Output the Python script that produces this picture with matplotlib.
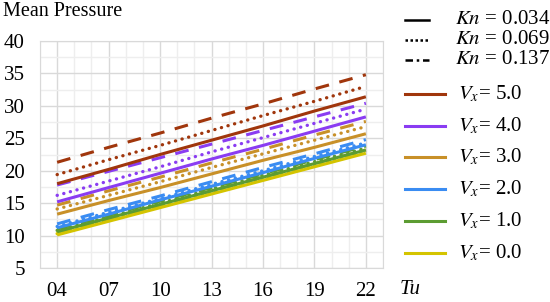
import matplotlib
matplotlib.use("Agg")
import matplotlib.pyplot as plt
from matplotlib.lines import Line2D
from matplotlib.ticker import MultipleLocator

plt.rcParams['font.family'] = ['Liberation Serif', 'DejaVu Serif']
plt.rcParams['mathtext.fontset'] = 'stix'

tu = [4, 7, 10, 13, 16, 19, 22]
tick_labels = ["04", "07", "10", "13", "16", "19", "22"]
kn_values = ["0.034", "0.069", "0.137"]
vx_values = ["5.0", "4.0", "3.0", "2.0", "1.0", "0.0"]

# pressure[vx][kn]
p_v5_kn034 = [18.0, 20.2, 22.5, 24.7, 26.9, 29.2, 31.4]
p_v5_kn069 = [19.4, 21.7, 23.9, 26.2, 28.5, 30.7, 33.0]
p_v5_kn137 = [21.3, 23.6, 25.8, 28.1, 30.3, 32.6, 34.8]
p_v4_kn034 = [15.2, 17.4, 19.6, 21.8, 23.9, 26.1, 28.3]
p_v4_kn069 = [16.2, 18.4, 20.6, 22.9, 25.1, 27.3, 29.5]
p_v4_kn137 = [17.8, 19.9, 22.0, 24.1, 26.2, 28.3, 30.4]
p_v3_kn034 = [13.3, 15.4, 17.4, 19.5, 21.6, 23.6, 25.7]
p_v3_kn069 = [14.1, 16.2, 18.3, 20.5, 22.6, 24.7, 26.8]
p_v3_kn137 = [14.7, 16.9, 19.0, 21.2, 23.3, 25.5, 27.6]
p_v2_kn034 = [11.2, 13.3, 15.5, 17.6, 19.7, 21.9, 24.0]
p_v2_kn069 = [11.4, 13.6, 15.7, 17.9, 20.0, 22.2, 24.3]
p_v2_kn137 = [11.8, 14.0, 16.1, 18.3, 20.5, 22.6, 24.8]
p_v1_kn034 = [10.6, 12.7, 14.8, 16.9, 19.0, 21.1, 23.2]
p_v1_kn069 = [10.8, 12.9, 15.0, 17.2, 19.3, 21.4, 23.5]
p_v1_kn137 = [11.0, 13.1, 15.3, 17.4, 19.5, 21.7, 23.8]
p_v0_kn034 = [10.1, 12.2, 14.3, 16.4, 18.5, 20.6, 22.7]
p_v0_kn069 = [10.3, 12.4, 14.5, 16.7, 18.8, 20.9, 23.0]
p_v0_kn137 = [10.5, 12.6, 14.7, 16.9, 19.0, 21.1, 23.2]

series = [
    [p_v5_kn034, p_v5_kn069, p_v5_kn137],
    [p_v4_kn034, p_v4_kn069, p_v4_kn137],
    [p_v3_kn034, p_v3_kn069, p_v3_kn137],
    [p_v2_kn034, p_v2_kn069, p_v2_kn137],
    [p_v1_kn034, p_v1_kn069, p_v1_kn137],
    [p_v0_kn034, p_v0_kn069, p_v0_kn137],
]
colors = ["#A0360C", "#8A3CF2", "#C89028", "#3A8CF2", "#5C9C32", "#D4C400"]
styles = ["-", (0, (0.05, 2.0)), (0, (4.5, 3.5))]

W, H = 550, 302
fig = plt.figure(figsize=(W / 100, H / 100), dpi=100)
ax = fig.add_axes([40 / W, 1 - 268 / H, (383 - 40) / W, (268 - 41) / H])

for vi in range(len(series) - 1, -1, -1):
    for ki in range(3):
        ax.plot(tu, series[vi][ki], color=colors[vi], linestyle=styles[ki],
                lw=2.2 if ki != 1 else 2.4,
                dash_capstyle='round' if ki == 1 else 'butt',
                solid_capstyle='butt', zorder=3)

ax.set_xlim(3, 23)
ax.set_ylim(5, 40)
ax.set_xticks(tu)
ax.set_xticklabels(tick_labels)
ax.set_yticks([5, 10, 15, 20, 25, 30, 35, 40])
ax.xaxis.set_minor_locator(MultipleLocator(1))
ax.yaxis.set_minor_locator(MultipleLocator(2.5))
ax.grid(which='major', color='#d9d9d9', lw=1.0)
ax.grid(which='minor', color='#eeeeee', lw=1.0)
ax.set_axisbelow(True)
ax.tick_params(which='both', length=0)
ax.tick_params(axis='y', pad=11, labelsize=15)
ax.tick_params(axis='x', pad=10, labelsize=15)
for s in ax.spines.values():
    s.set_color('#d9d9d9')

fig.text(3 / W, 1 - 12 / H, "Mean Pressure", fontsize=14.5, va='center', ha='left')
fig.text(400 / W, 1 - 290 / H, "Tu", fontsize=15, style='italic', va='center', ha='left')

# legend (manual placement)
def px(x, y):
    return x / W, 1 - y / H

kn_y = [20, 40, 60]
kn_styles = ['-', (0, (1, 1)), (0, (3, 1.5, 1, 1.5))]
for ki, y in enumerate(kn_y):
    (x0, y0), (x1, _) = px(405, y), px(429, y)
    fig.add_artist(Line2D([x0, x1], [y0, y0], color='black', lw=1.8,
                          linestyle=kn_styles[ki], transform=fig.transFigure))
    tx, ty = px(455, y)
    fig.text(tx, ty, r"$Kn$ = " + kn_values[ki], fontsize=15, va='center', ha='left')

vx_y = [94, 126, 157, 189, 221, 253]
for vi, y in enumerate(vx_y):
    (x0, y0), (x1, _) = px(405, y), px(445, y)
    fig.add_artist(Line2D([x0, x1], [y0, y0], color=colors[vi], lw=2.2,
                          transform=fig.transFigure))
    tx, ty = px(458, y)
    fig.text(tx, ty, r"$V_x$= " + vx_values[vi], fontsize=15, va='center', ha='left')

fig.savefig("out.png", dpi=100)
